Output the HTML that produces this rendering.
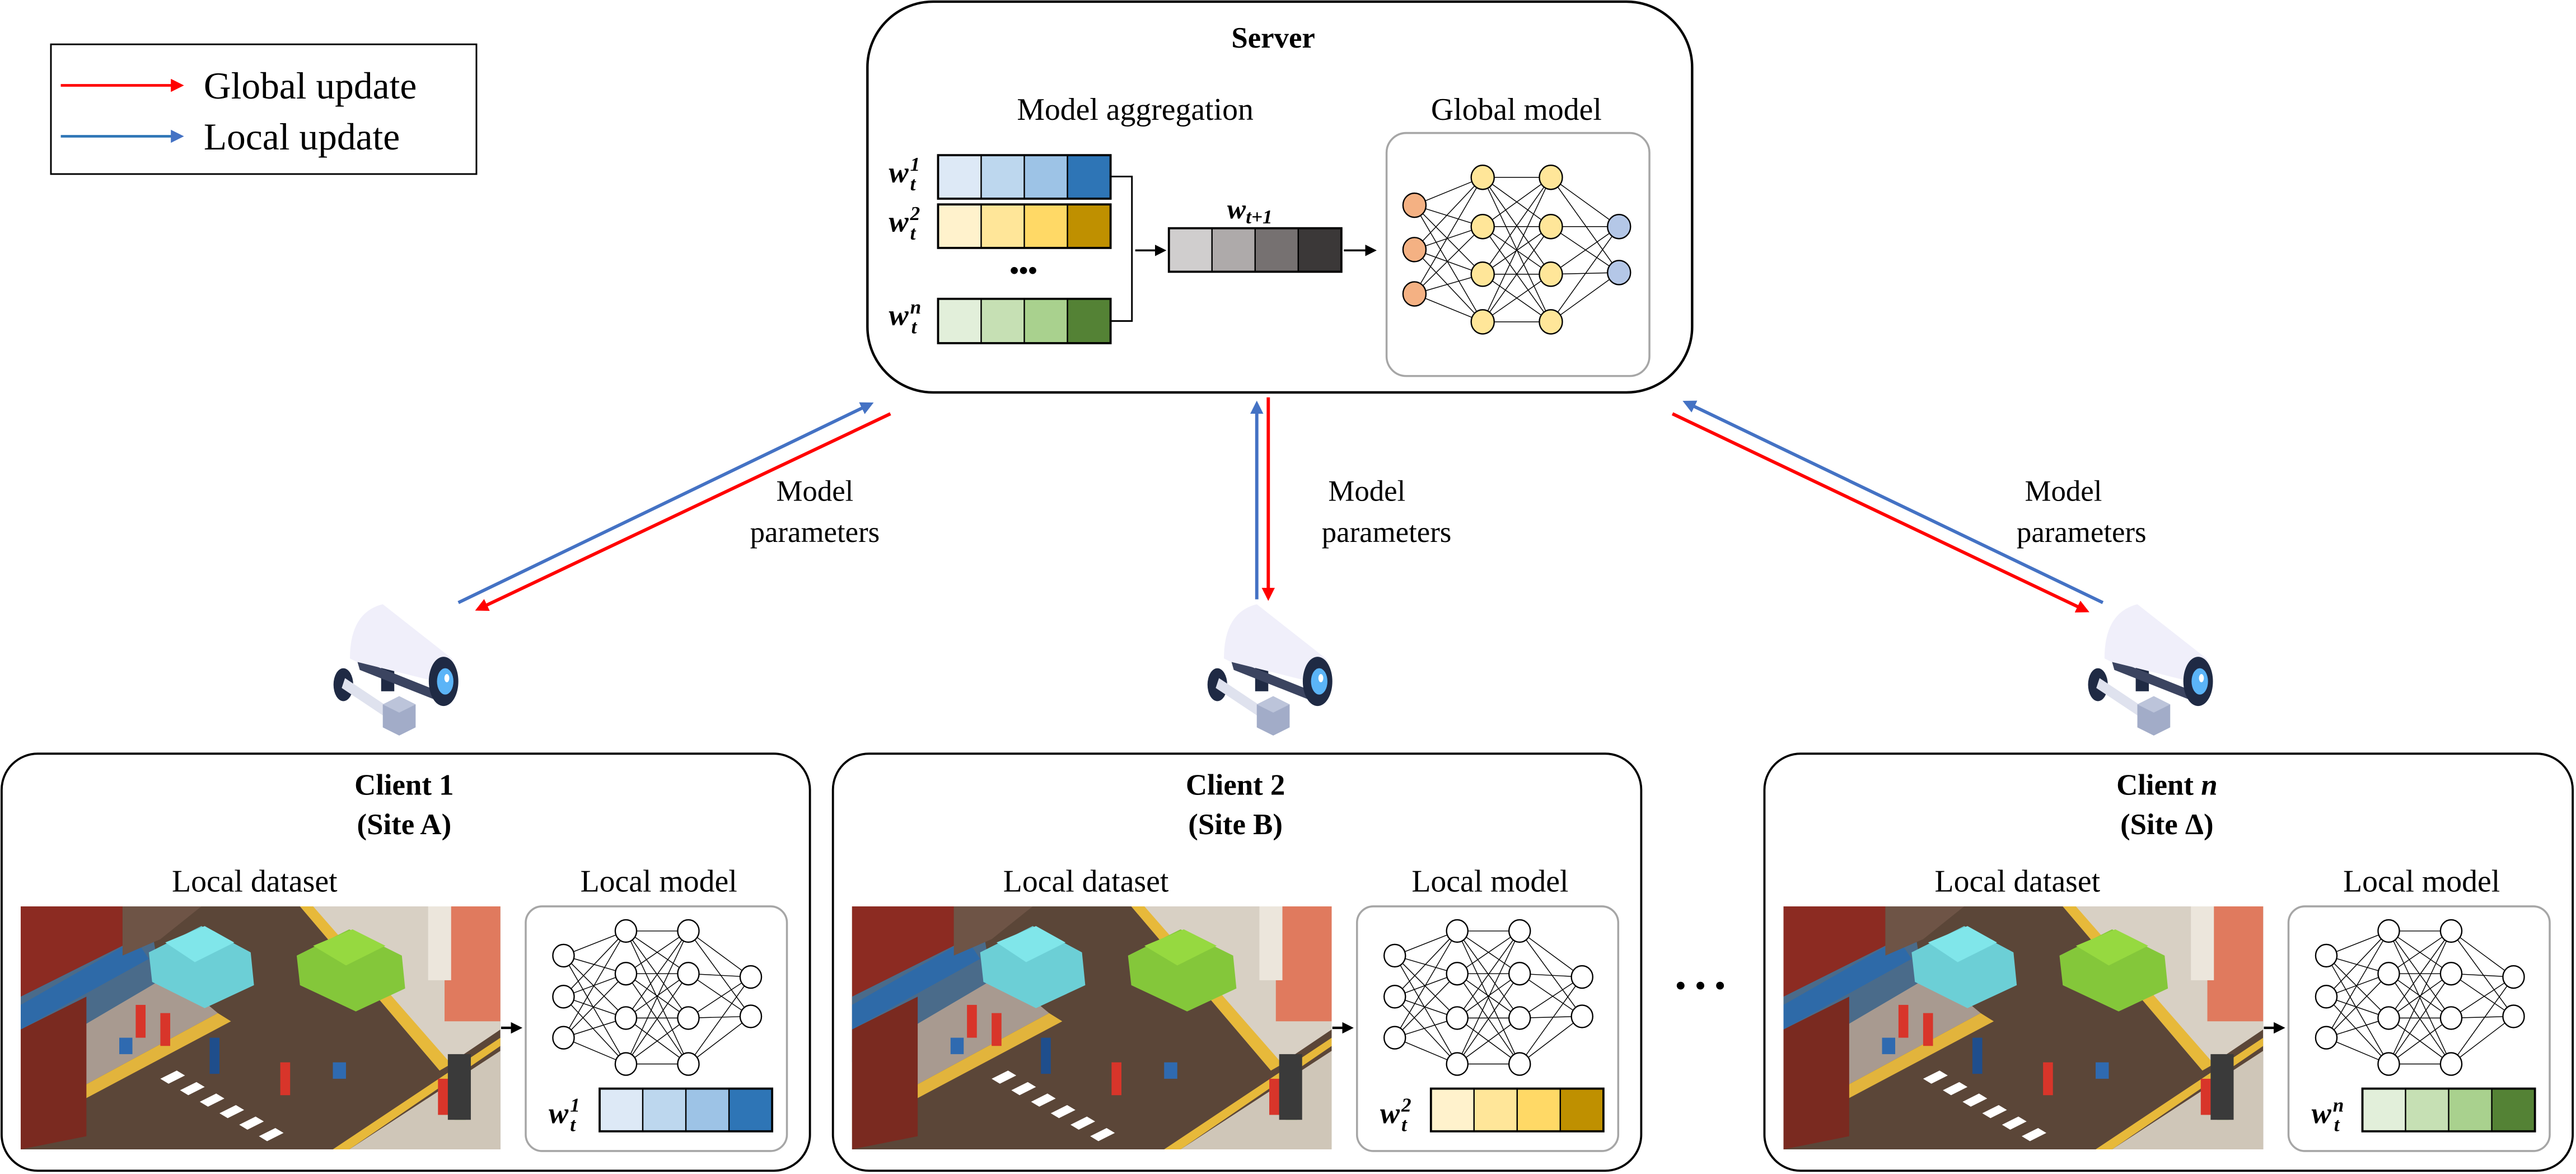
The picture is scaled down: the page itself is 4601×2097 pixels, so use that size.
<!DOCTYPE html>
<html><head><meta charset="utf-8">
<style>
html,body{margin:0;padding:0;background:#fff;font-family:"Liberation Serif","DejaVu Serif",serif;}
svg{display:block;}
svg text{font-family:"Liberation Serif","DejaVu Serif",serif;fill:#000;}
</style></head>
<body>
<svg id="s" width="4601" height="2097" viewBox="0 0 1568 715" preserveAspectRatio="none" xmlns="http://www.w3.org/2000/svg">
<defs>
<marker id="ar" markerWidth="8" markerHeight="8" refX="6" refY="4" orient="auto" markerUnits="userSpaceOnUse"><path d="M0,0 L8,4 L0,8 Z" fill="#ff0000"/></marker>
<marker id="ab" markerWidth="8" markerHeight="8" refX="6" refY="4" orient="auto" markerUnits="userSpaceOnUse"><path d="M0,0 L8,4 L0,8 Z" fill="#4472c4"/></marker>
<marker id="ak" markerWidth="7" markerHeight="7" refX="5" refY="3.5" orient="auto" markerUnits="userSpaceOnUse"><path d="M0,0 L7,3.5 L0,7 Z" fill="#000"/></marker>
<clipPath id="imgclip"><rect x="0" y="0" width="292" height="148"/></clipPath>
<g id="street">
<g clip-path="url(#imgclip)">
<rect x="0" y="0" width="292" height="148" fill="#5b4638"/>
<polygon points="170,0 292,0 292,75 255,100" fill="#d8d0c4"/>
<polygon points="170,0 255,100 262,96 178,0" fill="#e7b93a"/>
<polygon points="292,88 292,148 200,148" fill="#cfc6b8"/>
<polygon points="292,85 200,148 190,148 292,80" fill="#e7b93a"/>
<polygon points="0,85 90,40 120,65 0,130" fill="#a89a90"/>
<polygon points="0,130 120,65 128,70 0,138" fill="#e2b43c"/>
<polygon points="0,0 62,0 62,30 0,60" fill="#8c2b22"/>
<polygon points="0,55 80,15 85,45 0,95" fill="#4a6b8a"/>
<polygon points="0,60 70,20 78,32 0,75" fill="#2e6aa8"/>
<polygon points="0,75 40,55 40,140 0,148" fill="#7a2a20"/>
<polygon points="62,0 110,0 85,20 62,30" fill="#6e5446"/>
<rect x="258" y="0" width="34" height="70" fill="#e07a5e"/>
<rect x="248" y="0" width="14" height="45" fill="#ece6dc"/>
<path d="M78,28 L110,12 L140,28 L142,48 L112,62 L80,46 Z" fill="#6ccfd6"/>
<path d="M88,22 L112,12 L130,22 L106,34 Z" fill="#80e6ea"/>
<path d="M168,30 L200,14 L232,30 L234,50 L204,64 L170,48 Z" fill="#84c73a"/>
<path d="M178,24 L202,14 L222,24 L198,36 Z" fill="#96d940"/>
<polygon points="85,105 95,100 100,103 90,108" fill="#fff"/>
<polygon points="97,112 107,107 112,110 102,115" fill="#fff"/>
<polygon points="109,119 119,114 124,117 114,122" fill="#fff"/>
<polygon points="121,126 131,121 136,124 126,129" fill="#fff"/>
<polygon points="133,133 143,128 148,131 138,136" fill="#fff"/>
<polygon points="145,140 155,135 160,138 150,143" fill="#fff"/>
<rect x="70" y="60" width="6" height="20" fill="#d8352a"/>
<rect x="85" y="65" width="6" height="20" fill="#d8352a"/>
<rect x="115" y="80" width="6" height="22" fill="#1f4e8c"/>
<rect x="158" y="95" width="6" height="20" fill="#d8352a"/>
<rect x="254" y="105" width="7" height="22" fill="#d8352a"/>
<rect x="264" y="108" width="7" height="22" fill="#6ab52e"/>
<rect x="260" y="90" width="14" height="40" fill="#3a3a3a"/>
<rect x="60" y="80" width="8" height="10" fill="#2f6ab0"/>
<rect x="190" y="95" width="8" height="10" fill="#2f6ab0"/>
</g></g>
<g id="cam">
<ellipse cx="-36" cy="12" rx="6" ry="10" fill="#1f2a44"/>
<polygon points="-35,8 -8,26 -10,32 -37,14" fill="#dfe2ee"/>
<rect x="-13" y="0" width="8" height="16" fill="#1f2a44"/>
<polygon points="-12,24 -2,19 8,24 8,38 -2,43 -12,38" fill="#a2acc8"/>
<polygon points="-12,24 -2,19 8,24 -2,29" fill="#bcc4da"/>
<path d="M-28,-4 L22,16 L22,22 L-26,3 Z" fill="#3b4460"/>
<path d="M-32,-4 Q-32,-32 -12,-37 L30,-4 Q34,4 28,12 L-28,-2 Z" fill="#f0effa"/>
<ellipse cx="25" cy="10" rx="9" ry="15" fill="#1f2a44"/>
<ellipse cx="26" cy="10" rx="5" ry="8" fill="#5bb4f7"/>
<ellipse cx="27" cy="8" rx="1.5" ry="2.5" fill="#fff"/>
</g>
</defs>

<rect x="31" y="27" width="259" height="79" fill="#fff" stroke="#000" stroke-width="1"/>
<line x1="37" y1="52" x2="110" y2="52" stroke="#ff0000" stroke-width="1.6" marker-end="url(#ar)"/>
<line x1="37" y1="83" x2="110" y2="83" stroke="#2e75b6" stroke-width="1.6" marker-end="url(#ab)"/>
<text x="124" y="60" font-size="23">Global update</text>
<text x="124" y="91" font-size="23">Local update</text>

<rect x="528" y="1" width="502" height="238" rx="40" fill="#fff" stroke="#000" stroke-width="1.5"/>
<text x="775" y="29" font-size="18" font-weight="bold" text-anchor="middle">Server</text>
<text x="691" y="73" font-size="19" text-anchor="middle">Model aggregation</text>
<text x="923" y="73" font-size="19" text-anchor="middle">Global model</text>
<g id="vecs"></g>
<polyline points="676,107.5 689,107.5 689,195.5 676,195.5" fill="none" stroke="#000" stroke-width="1"/>
<line x1="691" y1="152.5" x2="708" y2="152.5" stroke="#000" stroke-width="1.2" marker-end="url(#ak)"/>
<line x1="818" y1="152.5" x2="836" y2="152.5" stroke="#000" stroke-width="1.2" marker-end="url(#ak)"/>
<text x="623" y="170" font-size="16" font-weight="bold" text-anchor="middle">•••</text>
<text x="747" y="133" font-size="17" font-weight="bold" font-style="italic">w<tspan font-size="12" dy="3">t+1</tspan></text>
<rect x="844" y="81" width="160" height="148" rx="12" fill="#fff" stroke="#a6a6a6" stroke-width="1.2"/>
<g id="gnn"></g>

<line x1="279" y1="367" x2="530" y2="246" stroke="#4472c4" stroke-width="2" marker-end="url(#ab)"/>
<line x1="542" y1="252" x2="291" y2="371" stroke="#ff0000" stroke-width="2" marker-end="url(#ar)"/>
<line x1="765" y1="365" x2="765" y2="246" stroke="#4472c4" stroke-width="2" marker-end="url(#ab)"/>
<line x1="772" y1="242" x2="772" y2="364" stroke="#ff0000" stroke-width="2" marker-end="url(#ar)"/>
<line x1="1280" y1="367" x2="1026" y2="245" stroke="#4472c4" stroke-width="2" marker-end="url(#ab)"/>
<line x1="1018" y1="252" x2="1270" y2="372" stroke="#ff0000" stroke-width="2" marker-end="url(#ar)"/>
<text font-size="18" text-anchor="middle"><tspan x="496" y="305">Model</tspan><tspan x="496" y="330">parameters</tspan></text>
<text font-size="18" text-anchor="middle"><tspan x="832" y="305">Model</tspan><tspan x="844" y="330">parameters</tspan></text>
<text font-size="18" text-anchor="middle"><tspan x="1256" y="305">Model</tspan><tspan x="1267" y="330">parameters</tspan></text>

<use href="#cam" x="245" y="405"/>
<use href="#cam" x="777" y="405"/>
<use href="#cam" x="1313" y="405"/>

<g id="clients"></g>
<text x="1035" y="607" font-size="20" text-anchor="middle">• • •</text>
</svg>
<script>
const NS="http://www.w3.org/2000/svg";
function el(p,t,a,txt){const e=document.createElementNS(NS,t);for(const k in a)e.setAttribute(k,a[k]);if(txt!==undefined)e.textContent=txt;p.appendChild(e);return e;}
const pal={b:["#dde9f6","#bdd7ee","#9dc3e6","#2e75b6"],y:["#fff2cc","#ffe699","#ffd966","#bf9000"],g:["#e2efda","#c6e0b4","#a9d18e","#548235"],k:["#d0cece","#aeaaaa","#767171","#3b3838"]};
function bar(p,x,y,w,h,c){const cw=w/4;for(let i=0;i<4;i++)el(p,"rect",{x:x+i*cw,y:y,width:cw,height:h,fill:c[i],stroke:"#000","stroke-width":0.8});el(p,"rect",{x:x,y:y,width:w,height:h,fill:"none",stroke:"#000","stroke-width":1.3});}
function wlab(p,x,y,sup){const t=el(p,"text",{x:x,y:y,"font-size":"18","font-weight":"bold","font-style":"italic"});el(t,"tspan",{},"w");el(t,"tspan",{"font-size":"12",dy:"-7",dx:"1"},sup);el(t,"tspan",{"font-size":"12",dy:"12",dx:"-6"},"t");}
const V=document.getElementById("vecs");
bar(V,571,94.5,105,26.5,pal.b);bar(V,571,124.5,105,26.5,pal.y);bar(V,571,182,105,27,pal.g);
wlab(V,541,111,"1");wlab(V,541,141,"2");wlab(V,541,198,"n");
bar(V,711.5,139,105,26.5,pal.k);
function nn(p,L,r,fills){for(let l=0;l<L.length-1;l++)for(const a of L[l][1])for(const b of L[l+1][1])el(p,"line",{x1:L[l][0],y1:a,x2:L[l+1][0],y2:b,stroke:"#000","stroke-width":0.5});
L.forEach((ly,i)=>ly[1].forEach(y=>el(p,"ellipse",{cx:ly[0],cy:y,rx:r,ry:r*1.05,fill:fills[i],stroke:"#000","stroke-width":0.8})));}
const H=[108,138,167,196];
nn(document.getElementById("gnn"),[[861,[125,152,179]],[902.5,H],[944,H],[985.5,[138,166]]],7,["#f4b183","#ffe699","#ffe699","#b4c7e7"]);
const C=document.getElementById("clients");
const cl=[{o:0,t:"Client 1",s:"(Site A)",c:pal.b,sup:"1"},{o:506,t:"Client 2",s:"(Site B)",c:pal.y,sup:"2"},{o:1073,t:"Client ",s:"(Site Δ)",c:pal.g,sup:"n",n:1}];
cl.forEach(c=>{const g=el(C,"g",{transform:"translate("+c.o+",0)"});
el(g,"rect",{x:1,y:459,width:492,height:254,rx:22,fill:"#fff",stroke:"#000","stroke-width":1.3});
const t=el(g,"text",{x:246,y:484,"font-size":"18","font-weight":"bold","text-anchor":"middle"});el(t,"tspan",{},c.t);if(c.n)el(t,"tspan",{"font-style":"italic"},"n");
el(g,"text",{x:246,y:508,"font-size":"18","font-weight":"bold","text-anchor":"middle"},c.s);
el(g,"text",{x:155,y:543,"font-size":"19","text-anchor":"middle"},"Local dataset");
el(g,"text",{x:401,y:543,"font-size":"19","text-anchor":"middle"},"Local model");
el(g,"use",{href:"#street",x:12.6,y:552});
el(g,"line",{x1:305,y1:626,x2:316,y2:626,stroke:"#000","stroke-width":1.5,"marker-end":"url(#ak)"});
el(g,"rect",{x:320,y:552,width:159,height:149,rx:10,fill:"#fff",stroke:"#a6a6a6","stroke-width":1.2});
nn(g,[[343,[582,607,632]],[381,[567,593,620,648]],[419,[567,593,620,648]],[457,[595,619]]],6.5,["#fff","#fff","#fff","#fff"]);
bar(g,365,663,105,26,c.c);wlab(g,334,684,c.sup);
});
</script>
</body></html>
